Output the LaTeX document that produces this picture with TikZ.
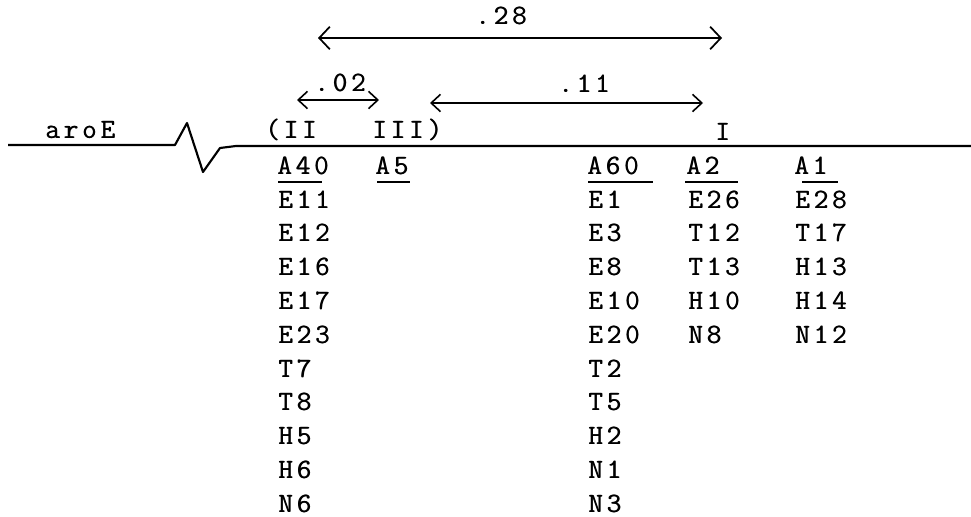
\documentclass[tikz,border=0pt]{standalone}
\usetikzlibrary{arrows.meta,calc}
\makeatletter
\def\tws#1{\tws@a#1\relax}
\def\tws@a#1{\ifx#1\relax\else#1\kern3pt\expandafter\tws@a\fi}
\def\lt#1{\rlap{\kern0.45pt\tws{#1}}\tws{#1}}
\def\ltx#1{\expandafter\lt\expandafter{#1}}
\makeatother
\newcommand{\twfont}{\ttfamily\fontsize{21}{21}\selectfont}
\tikzset{
  x=0.75pt, y=-0.75pt,
  lbl/.style={font=\twfont, inner sep=0pt, anchor=base west},
  num/.style={font=\twfont, inner sep=0pt, anchor=base west},
  dimline/.style={line width=1.1pt, {Straight Barb[length=7pt,width=13pt,line width=1.2pt]}-{Straight Barb[length=7pt,width=13pt,line width=1.2pt]}},
  bigdim/.style={line width=1.1pt, {Straight Barb[length=8pt,width=17pt,line width=1.3pt]}-{Straight Barb[length=8pt,width=17pt,line width=1.3pt]}},
  uline/.style={line width=1.2pt},
  mainline/.style={line width=1.6pt, line join=round}
}
\begin{document}
\begin{tikzpicture}
\useasboundingbox (0,0) rectangle (971,517);

% dimension arrows
\coordinate (d28a) at (318,38);
\coordinate (d28b) at (722,38);
\draw[bigdim] (d28a) -- (d28b);
\node[num] (t28) at (475,25) {\lt{.28}};

\coordinate (d02a) at (297,100);
\coordinate (d02b) at (379,100);
\draw[dimline] (d02a) -- (d02b);
\node[num] (t02) at (314,92) {\lt{.02}};

\coordinate (d11a) at (430,103);
\coordinate (d11b) at (703,103);
\draw[dimline] (d11a) -- (d11b);
\node[num] (t11) at (558,93) {\lt{.11}};

% main line with break
\coordinate (l0) at (8,145);
\coordinate (l1) at (175,145);
\coordinate (z1) at (187,123);
\coordinate (z2) at (203,172);
\coordinate (z3) at (220,148);
\coordinate (l2) at (236,146);
\coordinate (l3) at (971,146);
\draw[mainline] (l0) -- (l1) -- (z1) -- (z2) -- (z3) -- (l2) -- (l3);

% labels on the line
\node[lbl] (aroe) at (45,138) {\lt{aroE}};
\node[lbl] (ii) at (265,138) {\lt{(II}};
\node[lbl] (iii) at (372,138) {\lt{III)}};
\node[lbl] (one) at (715,140) {\lt{I}};

% column heads
\node[lbl] (a40) at (277,174) {\lt{A40}};
\node[lbl] (a5) at (375,174) {\lt{A5}};
\node[lbl] (a60) at (587,174) {\lt{A60}};
\node[lbl] (a2) at (686,174) {\lt{A2}};
\node[lbl] (a1) at (794,174) {\lt{A1}};

\draw[uline] ($(a40.base west)+(1,8)$) -- ++(44,0);
\draw[uline] ($(a5.base west)+(2,8)$) -- ++(33,0);
\draw[uline] ($(a60.base west)+(1,8)$) -- ++(65,0);
\draw[uline] ($(a2.base west)+(-1,8)$) -- ++(53,0);
\draw[uline] ($(a1.base west)+(8,8)$) -- ++(36,0);

% column entries
\foreach \t [count=\i from 0] in {E11,E12,E16,E17,E23,T7,T8,H5,H6,N6}
  \node[lbl] (ca\i) at (278,208+33.8*\i) {\ltx{\t}};
\foreach \t [count=\i from 0] in {E1,E3,E8,E10,E20,T2,T5,H2,N1,N3}
  \node[lbl] (cb\i) at (588,208+33.8*\i) {\ltx{\t}};
\foreach \t [count=\i from 0] in {E26,T12,T13,H10,N8}
  \node[lbl] (cc\i) at (688,208+33.8*\i) {\ltx{\t}};
\foreach \t [count=\i from 0] in {E28,T17,H13,H14,N12}
  \node[lbl] (cd\i) at (795,208+33.8*\i) {\ltx{\t}};
\end{tikzpicture}
\end{document}
